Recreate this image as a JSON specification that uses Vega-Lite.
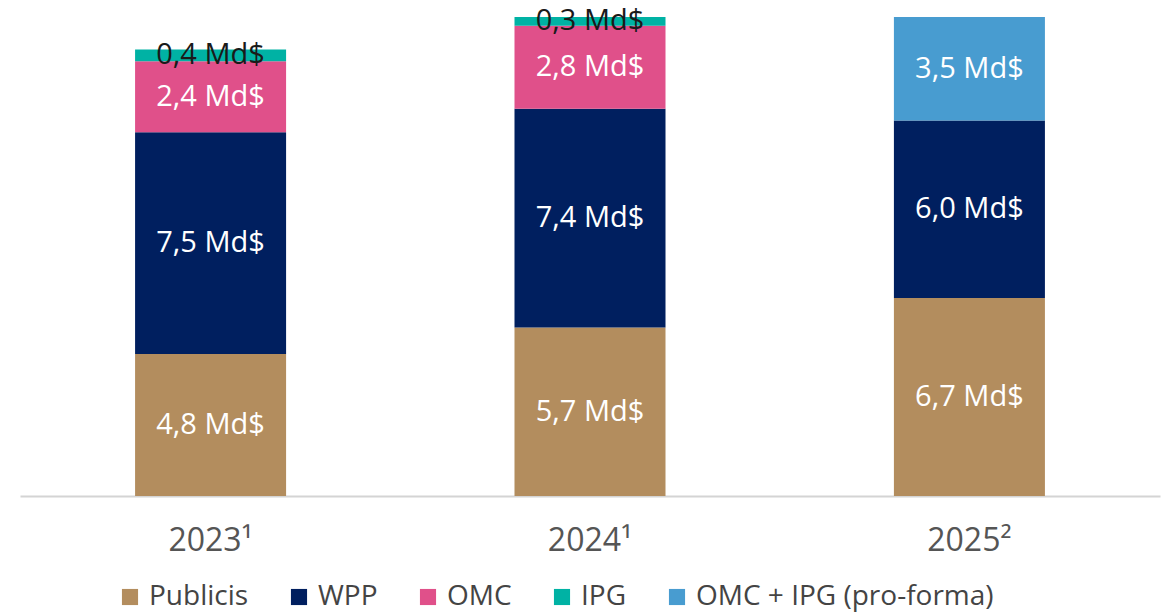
{
  "$schema": "https://vega.github.io/schema/vega-lite/v6.json",
  "width": 1140,
  "height": 479,
  "padding": {"left": 20, "top": 17, "right": 5, "bottom": 116},
  "autosize": {"type": "none"},
  "background": "white",
  "data": {
    "values": [
      {"year": "2023¹", "company": "Publicis", "order": 1, "value": 4.8},
      {"year": "2023¹", "company": "WPP", "order": 2, "value": 7.5},
      {"year": "2023¹", "company": "OMC", "order": 3, "value": 2.4},
      {"year": "2023¹", "company": "IPG", "order": 4, "value": 0.4},
      {"year": "2024¹", "company": "Publicis", "order": 1, "value": 5.7},
      {"year": "2024¹", "company": "WPP", "order": 2, "value": 7.4},
      {"year": "2024¹", "company": "OMC", "order": 3, "value": 2.8},
      {"year": "2024¹", "company": "IPG", "order": 4, "value": 0.3},
      {"year": "2025²", "company": "Publicis", "order": 1, "value": 6.7},
      {"year": "2025²", "company": "WPP", "order": 2, "value": 6.0},
      {"year": "2025²", "company": "OMC + IPG (pro-forma)", "order": 5, "value": 3.5}
    ]
  },
  "encoding": {
    "x": {
      "field": "year",
      "type": "nominal",
      "sort": null,
      "title": null,
      "scale": {"paddingInner": 0.602, "paddingOuter": 0.3033},
      "axis": {
        "labelAngle": 0,
        "labelFont": "Open Sans",
        "labelFontSize": 32,
        "labelColor": "#555555",
        "labelPadding": 29,
        "ticks": false,
        "domainColor": "#d4d4d4",
        "domainWidth": 2
      }
    },
    "y": {
      "field": "value",
      "type": "quantitative",
      "stack": "zero",
      "scale": {"domain": [0, 16.2], "nice": false},
      "axis": null
    },
    "order": {"field": "order", "type": "quantitative"}
  },
  "layer": [
    {
      "mark": {"type": "bar"},
      "encoding": {
        "color": {
          "field": "company",
          "type": "nominal",
          "title": null,
          "scale": {
            "domain": ["Publicis", "WPP", "OMC", "IPG", "OMC + IPG (pro-forma)"],
            "range": ["#B38D5E", "#001F5F", "#E0508A", "#00B2A4", "#489CD0"]
          },
          "legend": {
            "orient": "none",
            "legendX": 96,
            "legendY": 566,
            "direction": "horizontal",
            "symbolType": "square",
            "symbolSize": 260,
            "symbolStrokeWidth": 0,
            "labelFont": "Open Sans",
            "labelFontSize": 28,
            "labelColor": "#444444",
            "labelOffset": 5,
            "columnPadding": 36,
            "labelLimit": 500
          }
        }
      }
    },
    {
      "mark": {"type": "text", "font": "Open Sans", "fontSize": 29, "baseline": "middle", "align": "center"},
      "encoding": {
        "y": {
          "field": "value",
          "type": "quantitative",
          "stack": "zero",
          "bandPosition": 0.5
        },
        "text": {"field": "value", "type": "quantitative", "format": "$.1f"},
        "color": {
          "condition": {"test": "datum.company === 'IPG'", "value": "#1a1a1a"},
          "value": "white"
        }
      }
    }
  ],
  "config": {
    "view": {"stroke": null},
    "locale": {
      "number": {
        "decimal": ",",
        "thousands": " ",
        "grouping": [3],
        "currency": ["", " Md$"]
      }
    }
  }
}
